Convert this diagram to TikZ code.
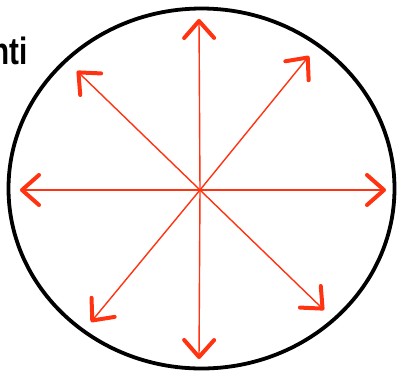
\documentclass[tikz,border=0pt]{standalone}
\usepackage{fontspec}
\setmainfont{Liberation Sans}
\usetikzlibrary{arrows.meta}
\definecolor{arr}{HTML}{FF3311}
\tikzset{
  ray/.style={arr, line width=1.4pt, -{Straight Barb[round, line width=4pt, length=17pt, width=30pt]}},
  rim/.style={black, line width=3.8pt}
}
\begin{document}
\begin{tikzpicture}[x=1pt,y=-1pt]
\useasboundingbox (0,0) rectangle (402,373);
\begin{scope}
\clip (0,0) rectangle (402,373);
\node[anchor=base east, inner sep=0pt, xscale=0.78, font=\bfseries\fontsize{38}{38}\selectfont] (lbl) at (28,64) {nti};
\end{scope}
\draw[rim] (201.5,188.5) ellipse [x radius=193, y radius=180];
\coordinate (c) at (200,190);
\coordinate (n) at (199,19);
\coordinate (s) at (199,359);
\coordinate (w) at (20,190);
\coordinate (e) at (386,190);
\coordinate (nw) at (77,71);
\coordinate (ne) at (309,56);
\coordinate (sw) at (91,322);
\coordinate (se) at (324,310);
\foreach \t in {n,s,w,e,nw,ne,sw,se} \draw[ray] (c) -- (\t);
\end{tikzpicture}
\end{document}
